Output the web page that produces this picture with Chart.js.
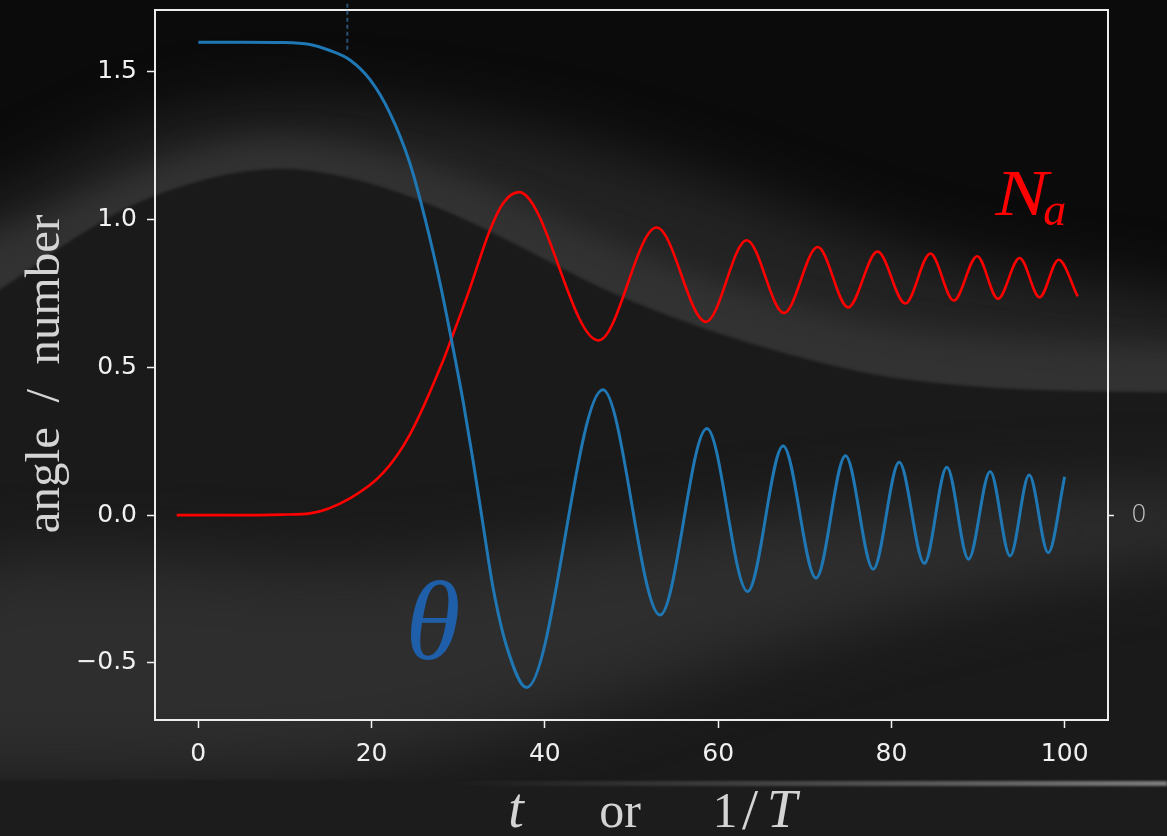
<!DOCTYPE html>
<html>
<head>
<meta charset="utf-8">
<script src="https://cdn.jsdelivr.net/npm/chart.js@4.4.1/dist/chart.umd.min.js"></script>
<style>
  html, body { margin: 0; padding: 0; background: #0b0b0b; }
  #wrap { width: 1167px; height: 836px; }
</style>
</head>
<body>
<div id="wrap"><canvas id="chart" width="1167" height="836"></canvas></div>
<script>
// theta(t): flat start, steep fall, then damped oscillation
const thetaT = [0, 5, 10, 12.9, 15.2, 17.5, 19.8, 22.1, 24.4, 26.3, 27.9, 29.2, 30.6, 31.7, 32.9, 34.0, 35.6, 37.9,
  46.7, 53.3, 58.7, 63.4, 67.5, 71.3, 74.7, 77.9, 80.9, 83.8, 86.4, 88.9, 91.4, 93.7, 95.9, 98.1, 100];
const thetaVals = [1.600, 1.600, 1.599, 1.592, 1.572, 1.540, 1.474, 1.361, 1.192, 0.988, 0.785, 0.596, 0.379, 0.187, -0.039, -0.242, -0.445, -0.583,
  0.424, -0.338, 0.293, -0.258, 0.234, -0.213, 0.201, -0.183, 0.179, -0.163, 0.162, -0.149, 0.148, -0.138, 0.136, -0.127, 0.130];

// N_a(t)
const naT = [-2.5, 5, 10, 12.9, 17.5, 21.3, 24.4, 28.3, 29.2, 31.3, 33.6, 35.2, 37.0,
  46.2, 52.9, 58.6, 63.3, 67.6, 71.5, 75.0, 78.4, 81.6, 84.5, 87.2, 89.9, 92.3, 94.8, 97.1, 99.3, 101.5];
const naVals = [0, 0.000, 0.002, 0.006, 0.057, 0.142, 0.272, 0.526, 0.596, 0.763, 0.960, 1.056, 1.093,
  0.591, 0.973, 0.654, 0.930, 0.684, 0.907, 0.703, 0.892, 0.716, 0.885, 0.726, 0.876, 0.732, 0.870, 0.737, 0.864, 0.740];

// dotted marker near the top
const markerT = 17.2;
const markerY = [1.73, 1.565];

const xTicks = [0, 20, 40, 60, 80, 100];
const yTicks = [-0.5, 0, 0.5, 1.0, 1.5];
const yTickLabels = ['\u22120.5', '0.0', '0.5', '1.0', '1.5'];
const rightTicks = [0];
const rightTickLabels = ['0'];

// closed smooth outline through the given points
function blob(c, pts) {
  const n = pts.length;
  const mid = (a, b) => [(a[0] + b[0]) / 2, (a[1] + b[1]) / 2];
  c.beginPath();
  let m = mid(pts[n - 1], pts[0]);
  c.moveTo(m[0], m[1]);
  for (let i = 0; i < n; i++) {
    const p = pts[i], q = mid(p, pts[(i + 1) % n]);
    c.quadraticCurveTo(p[0], p[1], q[0], q[1]);
  }
  c.closePath();
  c.fill();
}

// smoky backdrop behind everything
const backdrop = {
  id: 'backdrop',
  beforeDraw(chart) {
    const c = chart.ctx;
    const w = chart.width, h = chart.height;
    c.save();
    c.fillStyle = '#0b0b0b';
    c.fillRect(0, 0, w, h);

    // wide dim band
    c.filter = 'blur(30px)';
    c.fillStyle = '#232323';
    blob(c, [[-80, 215], [0, 200], [100, 140], [200, 108], [330, 100], [450, 115], [560, 135], [700, 175],
      [860, 232], [1000, 272], [1260, 300], [1260, 470], [900, 440], [600, 360], [300, 260], [0, 360], [-80, 380]]);
    // brighter edge of the band
    c.filter = 'blur(14px)';
    c.fillStyle = '#323232';
    blob(c, [[-80, 255], [0, 238], [149, 165], [275, 132], [446, 168], [595, 238], [744, 292], [893, 332],
      [1109, 347], [1260, 347], [1260, 430], [900, 420], [600, 340], [300, 230], [0, 330], [-80, 340]]);

    // dark body under the hump
    c.filter = 'blur(1.5px)';
    c.fillStyle = '#1a1a1a';
    blob(c, [[-80, 330], [0, 292], [60, 246], [149, 194], [265, 164], [360, 178], [446, 210],
      [520, 246], [595, 286], [670, 317], [744, 342], [820, 363], [893, 379], [1000, 389], [1109, 392],
      [1300, 393], [1300, 950], [-80, 950]]);

    // lighter haze in the lower part
    c.filter = 'blur(32px)';
    c.fillStyle = '#2e2e2e';
    blob(c, [[-80, 560], [150, 555], [300, 570], [450, 562], [600, 538], [800, 512], [1000, 494], [1260, 484],
      [1260, 545], [1000, 585], [800, 640], [600, 705], [450, 748], [300, 775], [0, 778], [-80, 778]]);

    // bottom strip
    c.filter = 'blur(1px)';
    c.fillStyle = '#1c1c1c';
    c.fillRect(-10, 780, w + 20, 70);
    const g = c.createLinearGradient(450, 0, w, 0);
    g.addColorStop(0, 'rgba(110,110,110,0)');
    g.addColorStop(1, 'rgba(125,125,125,1)');
    c.fillStyle = g;
    c.fillRect(450, 781, w - 450, 5);
    c.restore();
  }
};

// white frame round the plot
const frame = {
  id: 'frame',
  beforeDatasetsDraw(chart) {
    const a = chart.chartArea, c = chart.ctx;
    c.save();
    c.strokeStyle = '#ececec';
    c.lineWidth = 2;
    c.strokeRect(a.left, a.top, a.right - a.left, a.bottom - a.top);
    c.restore();
  }
};

// theta / N_a annotations and the serif axis titles
const labels = {
  id: 'labels',
  afterDraw(chart) {
    const c = chart.ctx;
    const xs = chart.scales.x, ys = chart.scales.y;
    c.save();
    c.textBaseline = 'alphabetic';

    c.fillStyle = '#1f5fa9';
    c.font = 'italic 112px "Liberation Serif"';
    c.textAlign = 'center';
    c.fillText('\u03B8', xs.getPixelForValue(27.1), ys.getPixelForValue(-0.487));

    // N_a, the N drawn a little wider like the math font
    c.fillStyle = '#ff0000';
    c.textAlign = 'left';
    const nx = xs.getPixelForValue(92.0), ny = ys.getPixelForValue(1.017);
    c.font = 'italic 66px "Liberation Serif"';
    const nw = c.measureText('N').width * 1.2;
    c.save();
    c.translate(nx, ny);
    c.scale(1.2, 1);
    c.fillText('N', 0, 0);
    c.restore();
    c.font = 'italic 46px "Liberation Serif"';
    c.fillText('a', nx + nw - 5, ny + 10);

    // x title: t   or   1/T
    c.fillStyle = '#d4d4d4';
    c.textAlign = 'center';
    c.font = 'italic 56px "Liberation Serif"';
    c.fillText('t', 516, 827);
    c.font = '50px "Liberation Serif"';
    c.fillText('or', 620, 827);
    c.fillText('1', 725, 827);
    c.font = '58px "Liberation Serif"';
    c.fillText('/', 750, 829);
    c.font = 'italic 54px "Liberation Serif"';
    c.fillText('T', 782, 827);

    // y title
    c.save();
    c.translate(59, 374);
    c.rotate(-Math.PI / 2);
    c.font = '49px "Liberation Serif"';
    c.fillText('angle  /  number', 0, 0);
    c.restore();

    c.restore();
  }
};

const tickFont = { family: 'DejaVu Sans', size: 25 };

new Chart(document.getElementById('chart'), {
  type: 'line',
  data: {
    datasets: [
      {
        label: 'theta',
        data: thetaT.map((t, i) => ({ x: t, y: thetaVals[i] })),
        borderColor: '#1f77b4',
        borderWidth: 3,
        pointRadius: 0,
        cubicInterpolationMode: 'monotone',
        fill: false
      },
      {
        label: 'N_a',
        data: naT.map((t, i) => ({ x: t, y: naVals[i] })),
        borderColor: '#ff0000',
        borderWidth: 2.6,
        pointRadius: 0,
        cubicInterpolationMode: 'monotone',
        fill: false
      },
      {
        label: 'marker',
        data: markerY.map(v => ({ x: markerT, y: v })),
        borderColor: '#2b5174',
        borderWidth: 2,
        borderDash: [4, 3],
        pointRadius: 0,
        clip: false
      }
    ]
  },
  options: {
    responsive: false,
    animation: false,
    devicePixelRatio: 1,
    layout: { padding: { top: 10, left: 0, right: 0, bottom: 0 } },
    plugins: { legend: { display: false }, tooltip: { enabled: false } },
    scales: {
      x: {
        type: 'linear',
        min: -5,
        max: 105,
        afterBuildTicks: (axis) => { axis.ticks = xTicks.map(v => ({ value: v })); },
        afterFit: (scale) => { scale.height = 116; scale.paddingLeft = 0; scale.paddingRight = 0; },
        ticks: { color: '#f0f0f0', font: tickFont, padding: 11, maxRotation: 0 },
        grid: { drawOnChartArea: false, drawTicks: true, tickLength: 8, tickColor: '#f0f0f0', tickWidth: 1.5 },
        border: { display: false }
      },
      y: {
        type: 'linear',
        min: -0.693,
        max: 1.709,
        afterBuildTicks: (axis) => { axis.ticks = yTicks.map(v => ({ value: v })); },
        afterFit: (scale) => { scale.width = 155; scale.paddingTop = 0; scale.paddingBottom = 0; },
        ticks: { color: '#f0f0f0', font: tickFont, padding: 10, callback: (v, i) => yTickLabels[i] },
        grid: { drawOnChartArea: false, drawTicks: true, tickLength: 8, tickColor: '#f0f0f0', tickWidth: 1.5 },
        border: { display: false }
      },
      y2: {
        type: 'linear',
        position: 'right',
        min: -0.693,
        max: 1.709,
        afterBuildTicks: (axis) => { axis.ticks = rightTicks.map(v => ({ value: v })); },
        afterFit: (scale) => { scale.width = 59; scale.paddingTop = 0; scale.paddingBottom = 0; },
        ticks: { color: '#c8c8c8', font: { family: 'DejaVu Sans', size: 25, weight: 200 }, padding: 17, callback: (v, i) => rightTickLabels[i] },
        grid: { drawOnChartArea: false, drawTicks: true, tickLength: 6, tickColor: '#f0f0f0', tickWidth: 1.5 },
        border: { display: false }
      }
    }
  },
  plugins: [backdrop, frame, labels]
});
</script>
</body>
</html>
